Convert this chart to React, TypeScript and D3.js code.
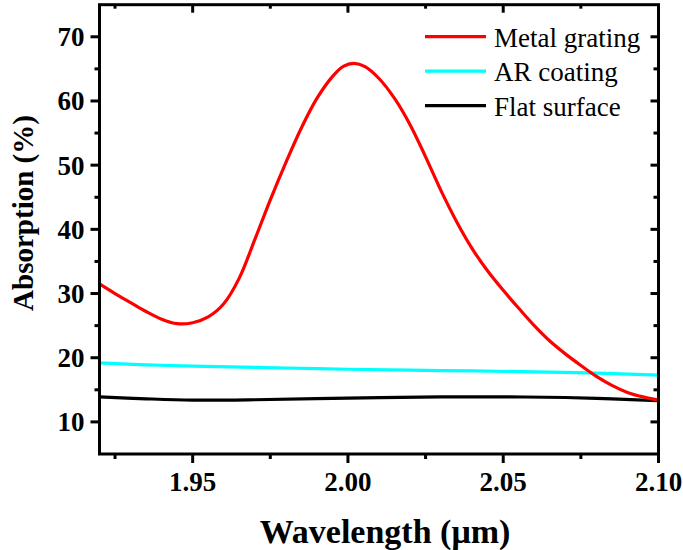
import React from "react";
import * as d3 from "d3";

const redX = [1.920, 1.925, 1.930, 1.935, 1.940, 1.945, 1.950, 1.955, 1.960, 1.965, 1.970, 1.975, 1.980, 1.985, 1.990, 1.995, 1.9985, 2.002, 2.0055, 2.010, 2.015, 2.020, 2.025, 2.030, 2.035, 2.040, 2.045, 2.050, 2.055, 2.060, 2.065, 2.070, 2.075, 2.080, 2.085, 2.090, 2.095, 2.100];
const redY = [31.5, 30.0, 28.6, 27.2, 26.0, 25.3, 25.45, 26.35, 28.4, 32.4, 38.4, 44.6, 50.4, 55.8, 60.4, 63.8, 65.4, 65.85, 65.35, 63.5, 60.4, 56.3, 51.3, 46.0, 41.2, 37.0, 33.5, 30.5, 27.7, 25.0, 22.6, 20.6, 18.8, 17.1, 15.7, 14.6, 13.9, 13.4];

const cyanX = [1.92, 1.935, 1.95, 1.98, 2.00, 2.03, 2.06, 2.08, 2.10];
const cyanY = [19.2, 18.9, 18.7, 18.4, 18.2, 18.0, 17.8, 17.6, 17.3];

const blackX = [1.92, 1.935, 1.95, 1.97, 2.00, 2.03, 2.05, 2.07, 2.085, 2.10];
const blackY = [13.9, 13.6, 13.4, 13.45, 13.7, 13.9, 13.9, 13.8, 13.6, 13.3];

const xMajor = [1.95, 2.0, 2.05, 2.1];
const xMinor = [1.925, 1.975, 2.025, 2.075];
const yMajor = [10, 20, 30, 40, 50, 60, 70];
const yMinor = [15, 25, 35, 45, 55, 65];

const seriesNames = ["Metal grating", "AR coating", "Flat surface"];
const seriesColors = ["#ff0000", "#00ffff", "#000000"];

const FONT = "'Liberation Serif', 'Times New Roman', serif";

export default function App() {
  const left = 99.5, right = 658.5, top = 4.7, bottom = 454;
  const x = d3.scaleLinear().domain([1.92, 2.1]).range([left, right]);
  const y = d3.scaleLinear().domain([5, 75]).range([bottom, top]);

  const mk = (xs: number[], ys: number[]) =>
    d3.line<number>()
      .x((_, i) => x(xs[i]))
      .y((d) => y(d))
      .curve(d3.curveCatmullRom.alpha(0.5))(ys) || "";

  const series = [
    { xs: blackX, ys: blackY, color: seriesColors[2] },
    { xs: cyanX, ys: cyanY, color: seriesColors[1] },
    { xs: redX, ys: redY, color: seriesColors[0] },
  ];

  const sw = 3;
  return (
    <svg width={683} height={550} style={{ position: "absolute", left: 0, top: 0 }}>
      <rect x={0} y={0} width={683} height={550} fill="#fff" />
      <defs>
        <clipPath id="plot">
          <rect x={left} y={top} width={right - left} height={bottom - top} />
        </clipPath>
      </defs>
      <g clipPath="url(#plot)">
        {series.map((s, i) => (
          <path key={i} d={mk(s.xs, s.ys)} fill="none" stroke={s.color} strokeWidth={3.2} strokeLinejoin="round" />
        ))}
      </g>
      <rect x={left} y={top} width={right - left} height={bottom - top} fill="none" stroke="#000" strokeWidth={sw} />
      {xMajor.map((v) => (
        <g key={"xM" + v}>
          <line x1={x(v)} x2={x(v)} y1={bottom} y2={bottom + 9} stroke="#000" strokeWidth={sw} />
          <line x1={x(v)} x2={x(v)} y1={top} y2={top + 8} stroke="#000" strokeWidth={sw} />
          <text x={x(v)} y={bottom + 37} textAnchor="middle" fontFamily={FONT} fontWeight="bold" fontSize={27}>
            {v.toFixed(2)}
          </text>
        </g>
      ))}
      {xMinor.map((v) => (
        <g key={"xm" + v}>
          <line x1={x(v)} x2={x(v)} y1={bottom} y2={bottom + 5} stroke="#000" strokeWidth={sw} />
          <line x1={x(v)} x2={x(v)} y1={top} y2={top + 4} stroke="#000" strokeWidth={sw} />
        </g>
      ))}
      {yMajor.map((v) => (
        <g key={"yM" + v}>
          <line x1={left - 9} x2={left} y1={y(v)} y2={y(v)} stroke="#000" strokeWidth={sw} />
          <line x1={right - 8} x2={right} y1={y(v)} y2={y(v)} stroke="#000" strokeWidth={sw} />
          <text x={left - 15} y={y(v) + 9.5} textAnchor="end" fontFamily={FONT} fontWeight="bold" fontSize={27}>
            {v}
          </text>
        </g>
      ))}
      {yMinor.map((v) => (
        <g key={"ym" + v}>
          <line x1={left - 5} x2={left} y1={y(v)} y2={y(v)} stroke="#000" strokeWidth={sw} />
          <line x1={right - 5} x2={right} y1={y(v)} y2={y(v)} stroke="#000" strokeWidth={sw} />
        </g>
      ))}
      <text x={385} y={543} textAnchor="middle" fontFamily={FONT} fontWeight="bold" fontSize={34}>
        Wavelength (μm)
      </text>
      <text transform="translate(33,213) rotate(-90)" textAnchor="middle" fontFamily={FONT} fontWeight="bold" fontSize={29}>
        Absorption (%)
      </text>
      {seriesNames.map((n, i) => (
        <g key={n} transform={`translate(0, ${36.7 + i * 34.5})`}>
          <line x1={425} x2={486} y1={0} y2={0} stroke={seriesColors[i]} strokeWidth={3.2} />
          <text x={494} y={10} fontFamily={FONT} fontSize={27}>
            {n}
          </text>
        </g>
      ))}
    </svg>
  );
}
